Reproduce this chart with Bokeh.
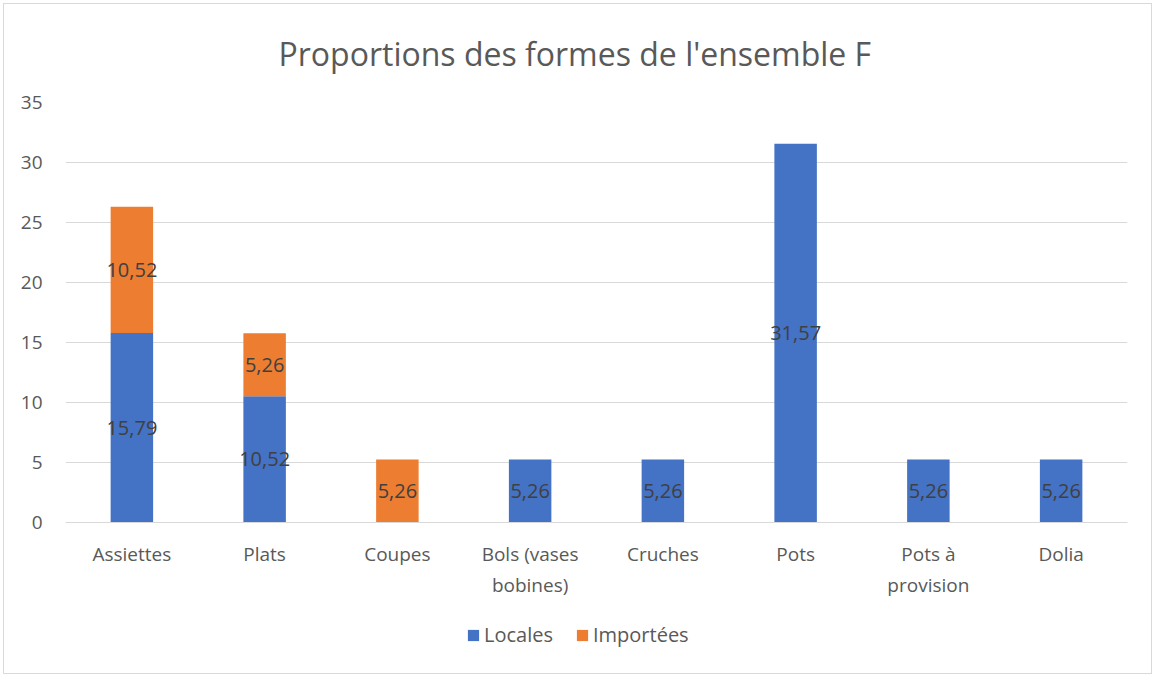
from bokeh.plotting import figure
from bokeh.layouts import column
from bokeh.models import ColumnDataSource, Legend, LegendItem, FixedTicker
from bokeh.core.properties import value
from bokeh.embed import file_html
from bokeh.resources import INLINE

title = "Proportions des formes de l'ensemble F"
categories = ["Assiettes", "Plats", "Coupes", "Bols (vases\nbobines)", "Cruches",
              "Pots", "Pots à\nprovision", "Dolia"]
series_names = ["Locales", "Importées"]
locales = [15.79, 10.52, 0, 5.26, 5.26, 31.57, 5.26, 5.26]
importees = [10.52, 5.26, 5.26, 0, 0, 0, 0, 0]
colors = ["#4472C4", "#ED7D31"]
y_ticks = [0, 5, 10, 15, 20, 25, 30, 35]

FONT = "Open Sans"
TXT = "#595959"

p = figure(x_range=categories, y_range=(0, 35), width=1155, height=600,
           output_backend="svg", toolbar_location=None,
           min_border_left=65, min_border_right=28, min_border_top=102, min_border_bottom=78)
p.border_fill_alpha = 0
p.background_fill_alpha = 0

p.title.text = title
p.title.align = "left"
p.title.text_font = FONT
p.title.text_font_size = "32px"
p.title.text_font_style = "normal"
p.title.text_color = TXT
p.title.offset = 213
p.title.standoff = 56

src = ColumnDataSource(dict(cat=categories, Locales=locales, Importées=importees))
renderers = p.vbar_stack(series_names, x="cat", width=0.32, color=colors, source=src, line_width=0)

# data labels
lx, ly, lt = [], [], []
for c, a, b in zip(categories, locales, importees):
    if a > 0:
        lx.append(c); ly.append(a / 2); lt.append(f"{a:.2f}".replace(".", ","))
    if b > 0:
        lx.append(c); ly.append(a + b / 2); lt.append(f"{b:.2f}".replace(".", ","))
p.text(x=lx, y=ly, text=lt, text_align="center", text_baseline="middle",
       text_font=value(FONT), text_font_size="20px", text_color="#404040")

p.outline_line_color = None
p.xgrid.grid_line_color = None
p.ygrid.grid_line_color = "#d9d9d9"
p.ygrid.grid_line_width = 1
p.yaxis.ticker = FixedTicker(ticks=y_ticks)
p.yaxis.axis_line_color = None
p.yaxis.major_tick_line_color = None
p.yaxis.minor_tick_line_color = None
p.yaxis.major_label_text_font = FONT
p.yaxis.major_label_text_font_size = "19px"
p.yaxis.major_label_text_color = TXT
p.yaxis.major_label_standoff = 17

p.xaxis.axis_line_color = "#d9d9d9"
p.xaxis.major_tick_line_color = None
p.xaxis.minor_tick_line_color = None
p.xaxis.major_label_text_font = FONT
p.xaxis.major_label_text_font_size = "19px"
p.xaxis.major_label_text_color = TXT
p.xaxis.major_label_standoff = 12

# legend strip below the chart
leg = figure(width=1155, height=77, output_backend="svg", toolbar_location=None,
             min_border=0, x_range=(0, 1), y_range=(0, 1))
leg.border_fill_alpha = 0
leg.background_fill_alpha = 0
leg.axis.visible = False
leg.grid.grid_line_color = None
leg.outline_line_color = None
leg_r = [leg.rect(x=[-5], y=[-5], width=0.1, height=0.1, color=c, line_width=0) for c in colors]
legend = Legend(items=[LegendItem(label=n, renderers=[r]) for n, r in zip(series_names, leg_r)],
                orientation="horizontal", location=(401, 29))
legend.label_text_font = FONT
legend.label_text_font_size = "20px"
legend.label_text_color = TXT
legend.glyph_width = 14
legend.glyph_height = 14
legend.label_standoff = 4
legend.spacing = 22
legend.border_line_color = None
legend.background_fill_alpha = 0
legend.margin = 0
legend.padding = 0
leg.add_layout(legend, "center")

layout = column(p, leg, spacing=0,
                styles={"outline": "1px solid #d9d9d9", "outline-offset": "-4px",
                        "background-color": "white"})
open("out.html", "w").write(file_html(layout, INLINE))
